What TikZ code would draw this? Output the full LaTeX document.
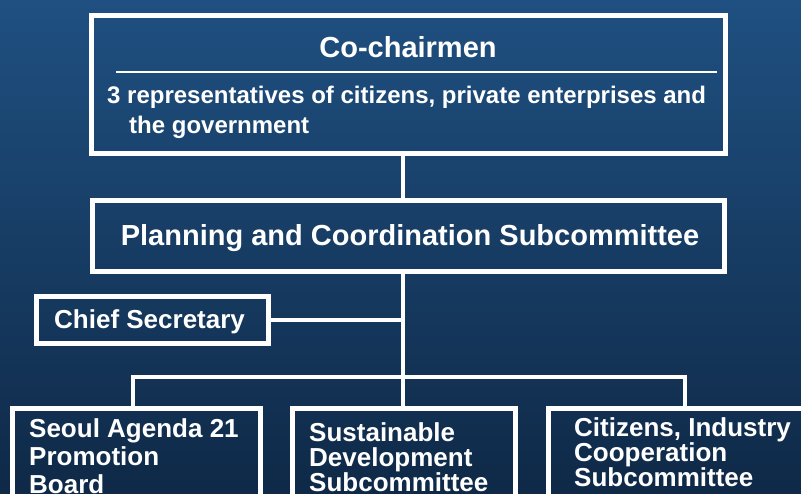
\documentclass[tikz,border=0pt]{standalone}
\usepackage{fontspec}
\setmainfont{Liberation Sans}
\definecolor{bgtop}{HTML}{1F5081}
\definecolor{bgbottom}{HTML}{0F2947}

\begin{document}
\begin{tikzpicture}[x=1pt, y=-1pt,
  every node/.style={text=white},
  box/.style={draw=white, line width=4.5pt, rectangle, inner sep=0pt},
  wire/.style={draw=white, line width=4.5pt},
  boxtext/.style={anchor=north west, inner sep=0pt, align=left,
    font=\fontsize{26}{#1}\selectfont\bfseries},
  boxtext/.default=25]
  \clip (0,0) rectangle (801,494);
  \shade[top color=bgtop, bottom color=bgbottom] (0,0) rectangle (801,494);

  % the chart's boxes
  \node[box, minimum width=634pt, minimum height=138pt] (cochair) at (408.5,84.5) {};
  \node[box, minimum width=632pt, minimum height=71pt] (planning) at (408.5,236) {};
  \node[box, minimum width=232pt, minimum height=47pt] (chief) at (152.5,320) {};
  \node[box, minimum width=248pt, minimum height=132pt] (board) at (136.5,474.5) {};
  \node[box, minimum width=223pt, minimum height=132pt] (sustain) at (404,474.5) {};
  \node[box, minimum width=282pt, minimum height=132pt] (coop) at (689.5,474.5) {};

  % texts
  \node[anchor=base, font=\fontsize{29}{34}\selectfont\bfseries] (cotitle) at (408,57.5) {Co-chairmen};
  \draw[white, line width=2.5pt] (116,72) -- (717,72);
  \node[anchor=north west, inner sep=0pt, align=left,
        font=\fontsize{24}{29.5}\selectfont\bfseries] (cosub) at (107,86)
    {3 representatives of citizens, private enterprises and\\\hspace*{22pt}the government};
  \node[anchor=base, font=\fontsize{29}{34}\selectfont\bfseries] (plantitle) at (410,246)
    {Planning and Coordination Subcommittee};
  \node[anchor=base west, inner sep=0pt, font=\fontsize{26}{30}\selectfont\bfseries] (chieftitle) at (54,329)
    {Chief Secretary};
  \node[boxtext=28] (boardtitle) at (29,418) {Seoul Agenda 21\\Promotion\\Board};
  \node[boxtext] (sustaintitle) at (309,422) {Sustainable\\Development\\Subcommittee};
  \node[boxtext] (cooptitle) at (574,417) {Citizens, Industry\\Cooperation\\Subcommittee};

  % connectors
  \coordinate (spine) at (403,0);
  \coordinate (dropL) at (133,377);
  \coordinate (dropR) at (684.5,377);
  \draw[wire] (cochair.south -| spine) -- (planning.north -| spine);
  \draw[wire] (planning.south -| spine) -- (sustain.north -| spine);
  \draw[wire] (chief.east) -- (chief.east -| spine);
  \draw[wire, line width=4pt] (board.north -| dropL) -- (dropL) -- (dropR) -- (coop.north -| dropR);
\end{tikzpicture}
\end{document}
